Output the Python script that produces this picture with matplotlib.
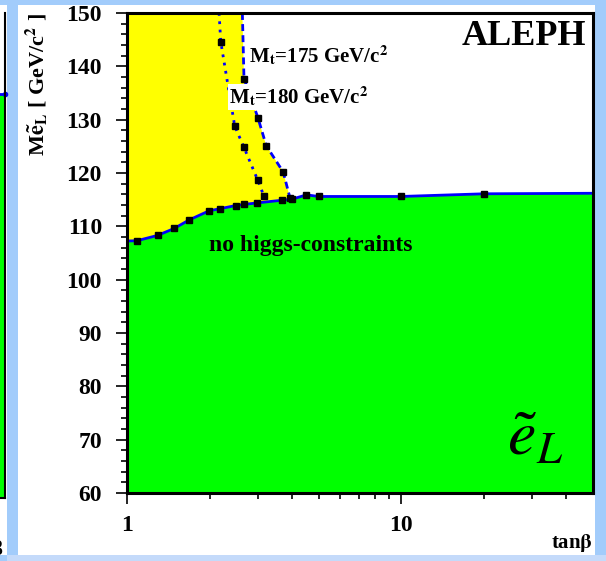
import numpy as np
import matplotlib.pyplot as plt
from matplotlib.patches import Rectangle
from matplotlib.ticker import FixedLocator, NullFormatter

plt.rcParams['font.family'] = ['Liberation Serif', 'DejaVu Serif']
plt.rcParams['mathtext.fontset'] = 'stix'

# lower limit, no higgs constraints (green region boundary)
tb_low = [1.0, 1.087, 1.293, 1.486, 1.685, 1.99, 2.18, 2.49, 2.66, 2.99, 3.68, 4.0, 4.51, 5.0, 10.0, 20.0, 50.0]
m_low = [107.25, 107.3, 108.3, 109.6, 111.2, 112.9, 113.3, 113.9, 114.1, 114.4, 114.9, 115.1, 115.9, 115.6, 115.6, 116.1, 116.2]

# Mt = 180 GeV/c2 (dotted)
tb_180 = [2.166, 2.197, 2.47, 2.67, 3.0, 3.16]
m_180 = [150.0, 144.6, 128.8, 124.8, 118.6, 115.6]

# Mt = 175 GeV/c2 (dashed)
tb_175 = [2.634, 2.67, 3.0, 3.22, 3.71, 3.93]
m_175 = [150.0, 137.7, 130.4, 125.1, 120.2, 115.3]

W, H = 606, 561
fig = plt.figure(figsize=(W / 100, H / 100), dpi=100, facecolor='#a2ccfb')

def fx(px):
    return px / W

def fy(py):
    return 1 - py / H

# white panels
fig.patches.append(Rectangle((fx(18), fy(555)), fx(595) - fx(18), fy(5) - fy(555),
                             transform=fig.transFigure, facecolor='white', edgecolor='none', zorder=-2))
fig.patches.append(Rectangle((0, fy(555)), fx(7), fy(5) - fy(555),
                             transform=fig.transFigure, facecolor='white', edgecolor='none', zorder=-2))
fig.patches.append(Rectangle((fx(7), 0), 1, fy(555),
                             transform=fig.transFigure, facecolor='#c4dafa', edgecolor='none', zorder=-2))

# neighbouring panel, cut at the left edge
ax0 = fig.add_axes([-0.3, fy(498), 0.3 + fx(5), fy(13) - fy(498)])
ax0.set_xlim(0, 1)
ax0.set_ylim(60, 150)
ax0.fill_between([0, 1], 60, 135, color='#00ff00', lw=0)
ax0.plot([0.9, 1], [135, 135], color='blue', lw=2, marker='o', ms=3, clip_on=False)
ax0.set_xticks([])
ax0.set_yticks([])
ax0.spines['top'].set_visible(False)
for s in ['right', 'bottom']:
    ax0.spines[s].set_linewidth(1.5)
fig.text(fx(4), fy(550), 'tanβ', ha='right', va='center', fontsize=15, fontweight='bold')

# main panel
ax = fig.add_axes([fx(127), fy(493), fx(593) - fx(127), fy(13) - fy(493)])
ax.set_xscale('log')
ax.set_xlim(1, 50)
ax.set_ylim(60, 150)

# yellow: excluded for Mt = 175, green: excluded without higgs constraints
low_x = np.array(tb_low)
low_y = np.array(m_low)
keep = low_x <= tb_175[-1]
yx = [1.0] + tb_175 + list(low_x[keep][::-1])
yy = [150.0] + m_175 + list(low_y[keep][::-1])
ax.fill(yx, yy, color='#ffff00', lw=0, zorder=1)
ax.fill_between(tb_low, 60, m_low, color='#00ff00', lw=0, zorder=2)

ax.plot(tb_low, m_low, color='blue', lw=2, zorder=3)
ax.plot(tb_low[1:-1], m_low[1:-1], ls='none', marker='s', ms=5, color='black', zorder=5)
ax.plot(tb_180, m_180, color='blue', lw=2, ls=(0, (1, 2)), zorder=3)
ax.plot(tb_180[1:], m_180[1:], ls='none', marker='s', ms=5, color='black', zorder=5)
ax.plot(tb_175, m_175, color='blue', lw=2, ls=(0, (2.5, 1.5)), zorder=3)
ax.plot(tb_175[1:], m_175[1:], ls='none', marker='s', ms=5, color='black', zorder=5)

for s in ax.spines.values():
    s.set_linewidth(2.2)
    s.set_zorder(6)

ax.xaxis.set_major_locator(FixedLocator([1, 10]))
ax.xaxis.set_minor_locator(FixedLocator([2, 3, 4, 5, 6, 7, 8, 9, 20, 30, 40]))
ax.xaxis.set_minor_formatter(NullFormatter())
ax.set_xticklabels(['1', '10'])
ax.set_yticks(np.arange(60, 151, 10))
ax.set_yticks(np.arange(60, 151, 2), minor=True)
ax.tick_params(which='major', direction='out', length=8, width=1.2, labelsize=17)
ax.tick_params(which='minor', direction='out', length=4.5, width=1.2)
ax.tick_params(axis='y', which='major', pad=10)
ax.tick_params(axis='x', which='major', pad=8)
for lab in ax.get_xticklabels() + ax.get_yticklabels():
    lab.set_fontweight('bold')

ax.text(-0.193, 1.0, r'M$\mathbf{\tilde{e}}_\mathbf{L}$ [ GeV/c$^\mathbf{2}$ ]', transform=ax.transAxes,
        rotation=90, ha='center', va='top', fontsize=16, fontweight='bold')
ax.text(1.0, -0.105, r'tan$\mathbf{\beta}$', transform=ax.transAxes, ha='right', va='center',
        fontsize=15, fontweight='bold')

ax.text(0.985, 0.985, 'ALEPH', transform=ax.transAxes, ha='right', va='top', fontsize=26,
        fontweight='bold', zorder=7)
ax.text(0.176, 0.515, 'no higgs-constraints', transform=ax.transAxes, ha='left',
        va='center', fontsize=17, fontweight='bold', zorder=7)
ax.text(0.262, 0.91, r'M$_\mathbf{t}$=175 GeV/c$^\mathbf{2}$', transform=ax.transAxes, ha='left',
        va='center', fontsize=15, fontweight='bold', zorder=7)
ax.text(0.219, 0.825, r'M$_\mathbf{t}$=180 GeV/c$^\mathbf{2}$', transform=ax.transAxes, ha='left',
        va='center', fontsize=15, fontweight='bold', zorder=7,
        bbox=dict(facecolor='white', edgecolor='none', pad=0.5))
ax.text(0.875, 0.11, r'$\tilde{e}_L$', transform=ax.transAxes, ha='center', va='center',
        fontsize=46, zorder=7)

fig.savefig('out.png', dpi=100, facecolor=fig.get_facecolor())
